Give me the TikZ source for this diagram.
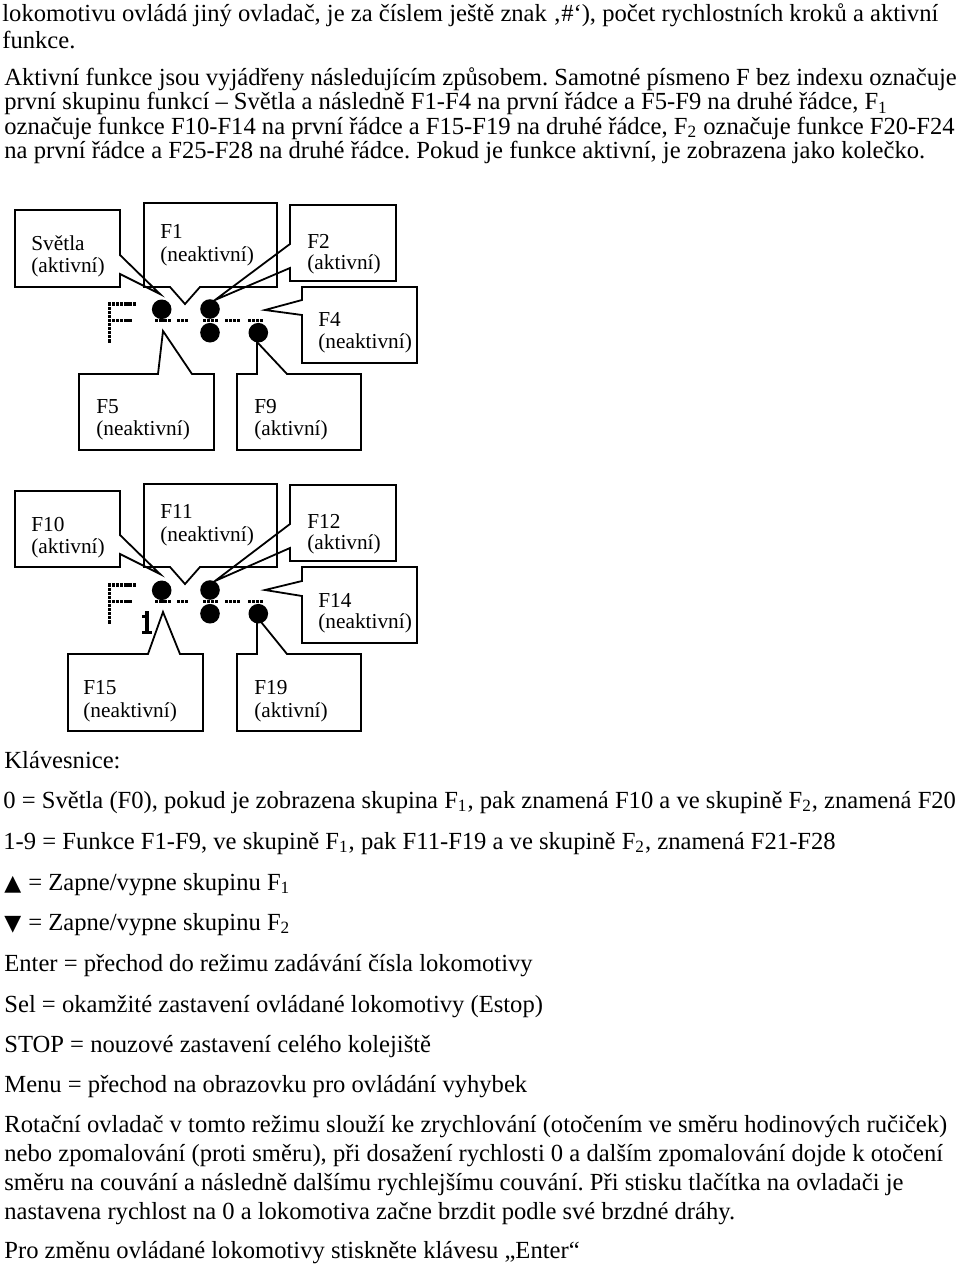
\documentclass[tikz,border=0pt]{standalone}
\usepackage{fontspec}
\setmainfont{Liberation Serif}
\newfontfamily\symfont{DejaVu Sans}
\newcommand\bodyfont{\fontsize{12.3pt}{12.5pt}\selectfont\frenchspacing}
\newcommand\boxfont{\fontsize{10.65pt}{11pt}\selectfont}
\newcommand\trifont{\fontsize{11pt}{11pt}\selectfont\symfont}
\newcommand\lcdpx[2]{\fill (#1-1.6,#2-1.6) rectangle (#1+1.6,#2+1.6);}
\newcommand\tri[1]{\makebox[12pt][l]{\trifont #1}}
\begin{document}
\begin{tikzpicture}[x=0.5pt,y=-0.5pt,
  body/.style={anchor=base west, inner sep=0pt, font=\bodyfont},
  btxt/.style={anchor=base west, inner sep=0pt, font=\boxfont},
  callout/.style={draw, line width=0.9pt, line join=miter},
  dotnode/.style={circle, fill=black, inner sep=0pt, minimum size=9.8pt},
]
\path[use as bounding box] (0,0) rectangle (960,1268);

% ---------- top paragraph ----------
\node[body] (p1) at (2,22) {lokomotivu ovládá jiný ovladač, je za číslem ještě znak ‚\#‘), počet rychlostních kroků a aktivní};
\node[body] (p2) at (2,49) {funkce.};
\node[body] (p3) at (4,86) {Aktivní funkce jsou vyjádřeny následujícím způsobem. Samotné písmeno F bez indexu označuje};
\node[body] (p4) at (4,110) {první skupinu funkcí – Světla a následně F1-F4 na první řádce a F5-F9 na druhé řádce, F\textsubscript{1}};
\node[body] (p5) at (4,134) {označuje funkce F10-F14 na první řádce a F15-F19 na druhé řádce, F\textsubscript{2} označuje funkce F20-F24};
\node[body] (p6) at (4,158) {na první řádce a F25-F28 na druhé řádce. Pokud je funkce aktivní, je zobrazena jako kolečko.};

% ---------- diagram 1 callouts ----------
\draw[callout] (15,210) -- (120,210) -- (120,255) -- (160,294) -- (120,274) -- (120,287) -- (15,287) -- cycle;
\draw[callout] (144,203) -- (277,203) -- (277,287) -- (200,287) -- (185,304) -- (170,287) -- (144,287) -- cycle;
\draw[callout] (290,205) -- (396,205) -- (396,281) -- (290,281) -- (290,268) -- (215,300) -- (290,244) -- cycle;
\draw[callout] (302,287) -- (417,287) -- (417,363) -- (302,363) -- (302,315) -- (265,310) -- (302,300) -- cycle;
\draw[callout] (79,374) -- (158,374) -- (163,331) -- (192,374) -- (214,374) -- (214,450) -- (79,450) -- cycle;
\draw[callout] (237,374) -- (257,374) -- (257,342) -- (287,374) -- (361,374) -- (361,450) -- (237,450) -- cycle;

\node[btxt] (a1) at (31,250) {Světla};
\node[btxt] (a2) at (31,272) {(aktivní)};
\node[btxt] (b1) at (160,238) {F1};
\node[btxt] (b2) at (160,261) {(neaktivní)};
\node[btxt] (c1) at (307,248) {F2};
\node[btxt] (c2) at (307,269) {(aktivní)};
\node[btxt] (e1) at (318,326) {F4};
\node[btxt] (e2) at (318,348) {(neaktivní)};
\node[btxt] (f1) at (96,413) {F5};
\node[btxt] (f2) at (96,435) {(neaktivní)};
\node[btxt] (g1) at (254,413) {F9};
\node[btxt] (g2) at (254,435) {(aktivní)};

% LCD glyphs diagram 1
\foreach \i in {0,...,6} {\lcdpx{109.5+\i*4.1}{304}}
\foreach \j in {1,...,9} {\lcdpx{109.5}{304+\j*4.1}}
\foreach \i in {1,...,5} {\lcdpx{109.5+\i*4.1}{320.4}}
\foreach \x in {156.8,160.9,165,169.1,178.5,182.6,186.7,204.5,208.6,212.7,216.8,226.5,230.6,234.7,238.8,249.5,253.6,257.7,261.8} {\lcdpx{\x}{320.4}}
\node[dotnode] (d1) at (161.7,309.3) {};
\node[dotnode] (d2) at (210,309) {};
\node[dotnode] (d3) at (210,332.7) {};
\node[dotnode] (d4) at (258.3,332.7) {};

% ---------- diagram 2 callouts ----------
\draw[callout] (15,491) -- (120,491) -- (120,535) -- (160,574) -- (120,554) -- (120,567) -- (15,567) -- cycle;
\draw[callout] (144,484) -- (277,484) -- (277,567) -- (200,567) -- (185,584) -- (170,567) -- (144,567) -- cycle;
\draw[callout] (290,485) -- (396,485) -- (396,561) -- (290,561) -- (290,548) -- (215,581) -- (290,524) -- cycle;
\draw[callout] (302,567) -- (417,567) -- (417,643) -- (302,643) -- (302,596) -- (265,590) -- (302,581) -- cycle;
\draw[callout] (68,654) -- (148,654) -- (163,612) -- (180,654) -- (203,654) -- (203,731) -- (68,731) -- cycle;
\draw[callout] (237,654) -- (257,654) -- (257,617) -- (287,654) -- (361,654) -- (361,731) -- (237,731) -- cycle;

\node[btxt] (h1) at (31,531) {F10};
\node[btxt] (h2) at (31,553) {(aktivní)};
\node[btxt] (i1) at (160,518) {F11};
\node[btxt] (i2) at (160,541) {(neaktivní)};
\node[btxt] (j1) at (307,528) {F12};
\node[btxt] (j2) at (307,549) {(aktivní)};
\node[btxt] (k1) at (318,607) {F14};
\node[btxt] (k2) at (318,628) {(neaktivní)};
\node[btxt] (l1) at (83,694) {F15};
\node[btxt] (l2) at (83,717) {(neaktivní)};
\node[btxt] (m1) at (254,694) {F19};
\node[btxt] (m2) at (254,717) {(aktivní)};

% LCD glyphs diagram 2
\foreach \i in {0,...,6} {\lcdpx{109.5+\i*4.1}{585}}
\foreach \j in {1,...,9} {\lcdpx{109.5}{585+\j*4.1}}
\foreach \i in {1,...,5} {\lcdpx{109.5+\i*4.1}{601.4}}
\foreach \x in {156.8,160.9,165,169.1,178.5,182.6,186.7,204.5,208.6,212.7,216.8,226.5,230.6,234.7,238.8,249.5,253.6,257.7,261.8} {\lcdpx{\x}{601.4}}
\foreach \j in {0,...,6} {\lcdpx{147}{613+\j*3.3}}
\lcdpx{143.7}{616.3}
\lcdpx{143.7}{632.8}
\lcdpx{150.3}{632.8}
\node[dotnode] (n1) at (161.7,590.3) {};
\node[dotnode] (n2) at (210,590) {};
\node[dotnode] (n3) at (210,613.7) {};
\node[dotnode] (n4) at (258.3,613.7) {};

% ---------- keyboard section ----------
\node[body] (q0) at (4,768) {Klávesnice:};
\node[body] (q1) at (3,808) {0 = Světla (F0), pokud je zobrazena skupina F\textsubscript{1}, pak znamená F10 a ve skupině F\textsubscript{2}, znamená F20};
\node[body] (q2) at (3,849) {1-9 = Funkce F1-F9, ve skupině F\textsubscript{1}, pak F11-F19 a ve skupině F\textsubscript{2}, znamená F21-F28};
\node[body] (q3) at (4,890) {\tri{▲}= Zapne/vypne skupinu F\textsubscript{1}};
\node[body] (q4) at (4,930) {\tri{▼}= Zapne/vypne skupinu F\textsubscript{2}};
\node[body] (q5) at (4,971) {Enter = přechod do režimu zadávání čísla lokomotivy};
\node[body] (q6) at (4,1012) {Sel = okamžité zastavení ovládané lokomotivy (Estop)};
\node[body] (q7) at (4,1052) {STOP = nouzové zastavení celého kolejiště};
\node[body] (q8) at (4,1092) {Menu = přechod na obrazovku pro ovládání vyhybek};
\node[body] (r1) at (4,1132) {Rotační ovladač v tomto režimu slouží ke zrychlování (otočením ve směru hodinových ručiček)};
\node[body] (r2) at (4,1161) {nebo zpomalování (proti směru), při dosažení rychlosti 0 a dalším zpomalování dojde k otočení};
\node[body] (r3) at (4,1190) {směru na couvání a následně dalšímu rychlejšímu couvání. Při stisku tlačítka na ovladači je};
\node[body] (r4) at (4,1219) {nastavena rychlost na 0 a lokomotiva začne brzdit podle své brzdné dráhy.};
\node[body] (r5) at (4,1258) {Pro změnu ovládané lokomotivy stiskněte klávesu „Enter“};
\end{tikzpicture}
\end{document}
